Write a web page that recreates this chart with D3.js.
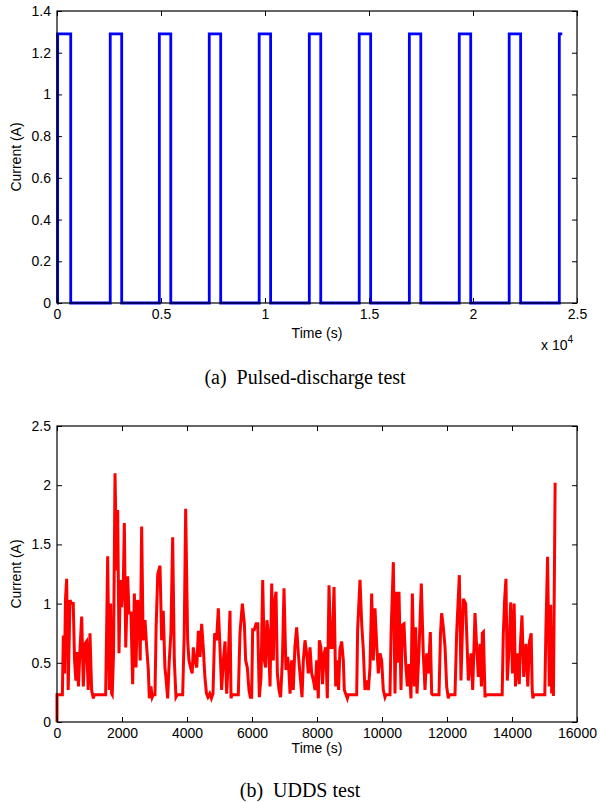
<!DOCTYPE html>
<html>
<head>
<meta charset="utf-8">
<script src="https://cdn.jsdelivr.net/npm/d3@7"></script>
<style>
  body { margin: 0; background: #fff; }
  svg { display: block; }
  .tick text { font-family: "Liberation Sans", Arial, sans-serif; font-size: 14px; fill: #000; }
  .tick line { stroke: #000; }
  .lbl { font-family: "Liberation Sans", Arial, sans-serif; font-size: 14px; fill: #000; }
  .cap { font-family: "Liberation Serif", "Times New Roman", serif; font-size: 20px; fill: #000; }
</style>
</head>
<body>
<script>
// (a) pulsed discharge: pulse edges in seconds, pulse level in A
var pulseStart = [30, 2560, 4920, 7320, 9720, 12130, 14530, 16940, 19340, 21740, 24150];
var pulseEnd = [660, 3110, 5470, 7870, 10270, 12680, 15080, 17490, 19890, 22290, 24290];
var pulseLevel = 1.29;
var pulseTicks = [0, 5000, 10000, 15000, 20000, 25000];
var pulseTickLabels = ['0', '0.5', '1', '1.5', '2', '2.5'];
var pulseYTicks = [0, 0.2, 0.4, 0.6, 0.8, 1, 1.2, 1.4];

// (b) UDDS test current
var uddsTime = [0, 0, 165, 195, 230, 260, 297, 345, 400, 450, 500, 540, 580, 610, 660, 710, 760, 810, 860, 910, 960, 1015, 1065, 1118, 1150, 1497,
  1525, 1559, 1610, 1650, 1680, 1700, 1740, 1785, 1835, 1867, 1908, 1950, 1990, 2040, 2072, 2115, 2175, 2215, 2275, 2328, 2380, 2430, 2480, 2520, 2560, 2605, 2650, 2708, 2760, 2810, 2840, 2890, 2930, 2960, 3015,
  3050, 3100, 3170, 3220, 3270, 3320, 3350, 3405, 3455, 3505, 3559, 3610, 3660, 3700, 3867,
  3915, 3959, 4020, 4060, 4110, 4160, 4195, 4245, 4300, 4349, 4400, 4451, 4500, 4550, 4600, 4645, 4700, 4750, 4800, 4850, 4910, 4964, 5015, 5065, 5120,
  5170, 5220, 5270, 5323, 5354, 5380, 5579,
  5630, 5703, 5765, 5805, 5856, 5907, 5948, 5990, 6020, 6070, 6124, 6175, 6226, 6278, 6329, 6380, 6420, 6460, 6500, 6555, 6606, 6657, 6690, 6739, 6780, 6830, 6880, 6935, 6985, 7045, 7100, 7140, 7170, 7220, 7270, 7320, 7374, 7425, 7475, 7539, 7580, 7631, 7682, 7733, 7785, 7836, 7890, 7940, 7990, 8040, 8073, 8120, 8170, 8220, 8270, 8318, 8370, 8420, 8470, 8524, 8575, 8620, 8665, 8705, 8759, 8810, 8840, 8880, 8933, 8960, 9221,
  9250, 9323, 9375, 9425, 9475, 9530, 9580, 9630, 9682, 9733, 9785, 9835, 9887, 9940, 9990, 10040, 10092, 10120, 10246,
  10280, 10349, 10400, 10452, 10490, 10523, 10585, 10626, 10677, 10730, 10780, 10831, 10892, 10934, 10995, 11036, 11077, 11140, 11210, 11270, 11323, 11375, 11425, 11487, 11528, 11560, 11754,
  11800, 11836, 11887, 11940, 11990, 12041, 12070, 12246,
  12297, 12380, 12430, 12502, 12574, 12657, 12740, 12790, 12862, 12913, 12965, 13015, 13060, 13087, 13120, 13170, 13200, 13698,
  13730, 13772, 13814, 13856, 13908, 13961, 14014, 14066, 14108, 14171, 14224, 14255, 14307, 14360, 14433, 14485, 14538, 14590, 14622, 14643, 14670, 15010,
  15041, 15095, 15147, 15190, 15220, 15253, 15275, 15327];
var uddsCurrent = [0, 0.23, 0.23, 0.73, 0.41, 1.03, 1.21, 0.27, 1.03, 1.0, 1.0, 0.52, 0.35, 0.59, 0.30, 0.63, 0.89, 0.30, 0.66, 0.68, 0.27, 0.75, 0.27, 0.20, 0.23, 0.23,
  0.75, 1.40, 0.27, 1.0, 0.24, 0.23, 0.58, 2.10, 1.28, 1.79, 0.58, 1.20, 0.97, 1.17, 1.68, 0.63, 1.23, 0.92, 0.92, 0.32, 1.085, 0.46, 1.03, 0.94, 0.52, 1.65, 0.69, 0.86, 0.63, 0.44, 0.20, 0.30, 0.21, 0.23, 0.23,
  0.80, 1.25, 1.32, 0.69, 0.94, 0.46, 0.38, 0.20, 0.52, 0.75, 1.56, 0.52, 0.21, 0.23, 0.23,
  0.75, 1.80, 0.69, 0.52, 0.46, 0.41, 0.63, 0.52, 0.46, 0.77, 0.55, 0.83, 0.63, 0.38, 0.24, 0.21, 0.24, 0.20, 0.24, 0.75, 0.69, 0.96, 0.63, 0.27, 0.52,
  0.68, 0.24, 0.52, 0.94, 0.20, 0.23, 0.23,
  0.75, 1.0, 0.83, 0.52, 0.46, 0.27, 0.21, 0.21, 0.78, 0.78, 0.83, 0.83, 0.21, 0.38, 1.20, 0.52, 0.46, 0.86, 0.75, 0.30, 1.17, 0.52, 1.0, 1.10, 0.41, 0.27, 0.21, 0.52, 1.13, 0.44, 0.55, 0.41, 0.24, 0.52, 0.27, 0.63, 0.80, 0.58, 0.41, 0.21, 0.52, 0.69, 0.58, 0.41, 0.63, 0.41, 0.35, 0.27, 0.52, 0.20, 0.69, 0.63, 0.32, 0.58, 0.63, 0.20, 1.155, 0.63, 0.63, 1.14, 0.30, 0.52, 0.27, 0.61, 0.68, 0.52, 0.27, 0.24, 0.20, 0.23, 0.23,
  0.78, 1.20, 0.83, 0.61, 0.27, 0.35, 0.27, 0.46, 1.085, 0.52, 0.96, 0.66, 0.41, 0.58, 0.52, 0.27, 0.21, 0.23, 0.23,
  0.75, 1.35, 0.24, 1.10, 0.50, 1.10, 0.27, 0.82, 0.83, 0.49, 0.30, 0.49, 0.20, 1.085, 0.30, 0.80, 0.24, 0.61, 1.17, 0.58, 0.27, 0.58, 0.41, 0.76, 0.24, 0.23, 0.23,
  0.75, 0.92, 0.80, 0.63, 0.30, 0.20, 0.23, 0.23,
  0.75, 1.24, 0.35, 1.04, 1.0, 0.35, 0.58, 0.27, 0.92, 0.63, 0.38, 0.66, 0.30, 0.75, 0.76, 0.21, 0.23, 0.23,
  0.72, 1.03, 1.21, 0.35, 0.63, 1.01, 0.41, 1.0, 0.30, 0.58, 0.32, 0.63, 0.90, 0.38, 0.66, 0.30, 0.68, 0.75, 0.27, 0.20, 0.23, 0.23,
  0.75, 1.395, 0.30, 0.99, 0.24, 0.82, 0.22, 2.02];
var uddsTicks = [0, 2000, 4000, 6000, 8000, 10000, 12000, 14000, 16000];
var uddsYTicks = [0, 0.5, 1, 1.5, 2, 2.5];

var W = 601, H = 802;
var left = 57, plotW = 520;

var svg = d3.select('body').append('svg').attr('width', W).attr('height', H);

function drawPanel(top, plotH, xDomain, yDomain, xTicks, xLabels, yTicks, points, color, lw) {
  var x = d3.scaleLinear().domain(xDomain).range([0, plotW]);
  var y = d3.scaleLinear().domain(yDomain).range([plotH, 0]);
  var g = svg.append('g').attr('transform', 'translate(' + left + ',' + top + ')');

  var line = d3.line().x(function(d) { return x(d[0]); }).y(function(d) { return y(d[1]); });
  g.append('path').datum(points)
    .attr('d', line)
    .attr('fill', 'none')
    .attr('stroke', color)
    .attr('stroke-width', lw)
    .attr('stroke-linejoin', 'miter');

  var xb = d3.axisBottom(x).tickValues(xTicks).tickSizeInner(-5).tickSizeOuter(0).tickPadding(6)
    .tickFormat(function(d, i) { return xLabels[i]; });
  g.append('g').attr('transform', 'translate(0,' + plotH + ')').call(xb);
  g.append('g').call(d3.axisTop(x).tickValues(xTicks).tickSizeInner(-5).tickSizeOuter(0).tickFormat(''));

  var yl = d3.axisLeft(y).tickValues(yTicks).tickSizeInner(-5).tickSizeOuter(0).tickPadding(6)
    .tickFormat(function(d) { return String(d); });
  g.append('g').call(yl);
  g.append('g').attr('transform', 'translate(' + plotW + ',0)')
    .call(d3.axisRight(y).tickValues(yTicks).tickSizeInner(-5).tickSizeOuter(0).tickFormat(''));

  g.selectAll('.domain').remove();
  g.append('rect').attr('width', plotW).attr('height', plotH)
    .attr('fill', 'none').attr('stroke', '#000').attr('stroke-width', 1.2);
  return g;
}

// panel (a)
var pulsePts = [[0, 0]];
pulseStart.forEach(function(s, i) {
  pulsePts.push([s, 0], [s, pulseLevel], [pulseEnd[i], pulseLevel]);
  if (i < pulseStart.length - 1) pulsePts.push([pulseEnd[i], 0]);
});
drawPanel(11, 292, [0, 25000], [0, 1.4], pulseTicks, pulseTickLabels, pulseYTicks, pulsePts, '#0000ff', 2.8);

// panel (b)
var uddsPts = uddsTime.map(function(t, i) { return [t, uddsCurrent[i]]; });
drawPanel(426, 296, [0, 16000], [0, 2.5], uddsTicks, uddsTicks.map(String), uddsYTicks, uddsPts, '#ff0000', 3);

// axis labels
svg.append('text').attr('class', 'lbl').attr('text-anchor', 'middle')
  .attr('transform', 'translate(21,157) rotate(-90)').text('Current (A)');
svg.append('text').attr('class', 'lbl').attr('text-anchor', 'middle')
  .attr('x', 317).attr('y', 338).text('Time (s)');
var ex = svg.append('text').attr('class', 'lbl').attr('x', 541).attr('y', 350);
ex.append('tspan').text('x 10');
ex.append('tspan').attr('dy', -7).attr('font-size', 10).text('4');

svg.append('text').attr('class', 'lbl').attr('text-anchor', 'middle')
  .attr('transform', 'translate(21,574) rotate(-90)').text('Current (A)');
svg.append('text').attr('class', 'lbl').attr('text-anchor', 'middle')
  .attr('x', 317).attr('y', 753).text('Time (s)');

// captions
svg.append('text').attr('class', 'cap').attr('text-anchor', 'middle')
  .attr('x', 305).attr('y', 384).attr('xml:space', 'preserve').text('(a)  Pulsed-discharge test');
svg.append('text').attr('class', 'cap').attr('text-anchor', 'middle')
  .attr('x', 300).attr('y', 797).attr('xml:space', 'preserve').text('(b)  UDDS test');
</script>
</body>
</html>
